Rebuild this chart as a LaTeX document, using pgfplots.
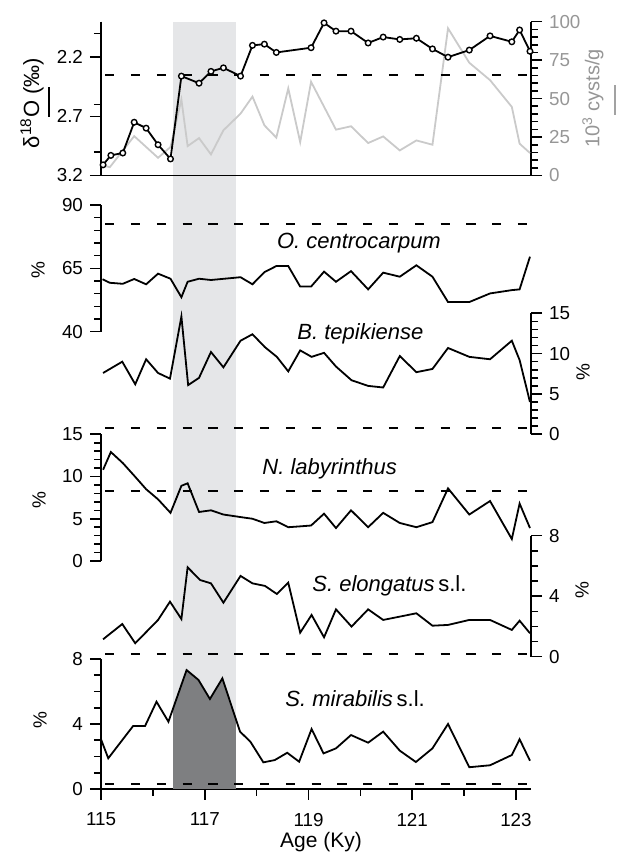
\documentclass[border=0pt]{standalone}
\usepackage{fontspec}
\setmainfont{Liberation Sans}
\usepackage{pgfplots}
\usepackage{pgfplotstable}
\pgfplotsset{compat=1.18}
\definecolor{band}{RGB}{229,230,232}
\definecolor{darkfill}{RGB}{126,127,129}
\definecolor{cystgray}{RGB}{202,202,202}
\definecolor{labgray}{RGB}{150,150,150}

\pgfplotsset{
  panel/.style={
    scale only axis, width=215pt, xmin=115, xmax=123.29,
    clip=false, anchor=south west,
    tick align=outside,
    major tick length=5.5pt, minor tick length=3.5pt,
    every tick/.style={black, line width=0.8pt},
    axis line style={line width=0.9pt,-},
    tick label style={font=\fontsize{9.4}{11}\selectfont},
    /pgf/number format/assume math mode=true,
  },
  dat/.style={black, line width=0.9pt},
  dline/.style={black, line width=0.9pt, dash pattern=on 4.6pt off 8.3pt},
}

\pgfplotstableread{
age val
115.00 3.06
115.14 1.89
115.62 3.88
115.85 3.88
116.07 5.37
116.30 4.14
116.65 7.32
116.88 6.71
117.10 5.54
117.34 6.81
117.68 3.53
117.88 2.91
118.13 1.64
118.35 1.78
118.59 2.23
118.82 1.68
119.06 3.69
119.29 2.19
119.53 2.50
119.82 3.32
120.15 2.85
120.44 3.53
120.76 2.36
121.07 1.66
121.39 2.50
121.69 4.00
122.10 1.34
122.50 1.46
122.92 2.09
123.07 3.06
123.27 1.74
}\mirdata

\begin{document}
\begin{tikzpicture}
\path[use as bounding box] (0,0) rectangle (309pt,427.5pt);

% grey band
\begin{axis}[scale only axis, width=215pt, height=383.65pt, at={(50.5pt,33pt)}, anchor=south west,
  xmin=115, xmax=123.29, ymin=0, ymax=1, hide axis]
\addplot[fill=band, draw=none] coordinates {(116.39,0) (117.6,0) (117.6,1) (116.39,1)} -- cycle;
\end{axis}

% Panel 1 right: cysts
\begin{axis}[panel, height=76.9pt, at={(50.5pt,339.75pt)},
  axis y line*=right, axis x line=none,
  ymin=0, ymax=100, ytick={0,25,50,75,100}, minor y tick num=4,
  yticklabel style={text=labgray}]
\addplot[cystgray, line width=0.9pt] table {
115.04 6.5
115.17 5.4
115.64 25.6
116.10 11.5
116.34 18.5
116.55 49.4
116.67 19.1
116.89 24.3
117.12 13.7
117.36 29.4
117.69 40.2
117.92 51.3
118.15 32.6
118.38 24.6
118.61 56.6
118.84 21.7
119.05 60.9
119.53 29.8
119.82 32.0
120.15 21.1
120.44 25.4
120.76 16.3
121.08 22.8
121.39 20.0
121.69 95.7
122.10 73.3
122.50 62.0
122.92 44.6
123.07 20.7
123.27 14.6
};
\end{axis}

% Panel 1 left: d18O
\begin{axis}[panel, height=76.9pt, at={(50.5pt,339.75pt)},
  axis y line*=left, axis x line*=bottom, y dir=reverse,
  ymin=1.9, ymax=3.2, ytick={2.2,2.7,3.2}, yticklabels={2.2,2.7,3.2},
  minor ytick={2.0,2.6,3.0},
  xtick=\empty, minor xtick={115,116,...,123}]
\addplot[dline] coordinates {(115.08,2.35) (123.29,2.35)};
\addplot[dat, mark=*, mark size=1.4pt, mark options={fill=white, draw=black, line width=0.7pt}] table {
115.04 3.11
115.19 3.03
115.42 3.01
115.64 2.75
115.87 2.80
116.10 2.94
116.34 3.06
116.55 2.36
116.89 2.42
117.12 2.32
117.36 2.29
117.69 2.36
117.92 2.10
118.15 2.09
118.38 2.16
119.05 2.12
119.30 1.91
119.53 1.98
119.82 1.98
120.15 2.08
120.44 2.03
120.76 2.05
121.08 2.04
121.39 2.13
121.69 2.20
122.10 2.14
122.50 2.02
122.92 2.07
123.07 1.97
123.27 2.15
};
\end{axis}

% Panel 2: O. centrocarpum
\begin{axis}[panel, height=63.35pt, at={(50.5pt,261.65pt)},
  axis y line*=left, axis x line=none,
  ymin=40, ymax=90, ytick={40,65,90}, minor y tick num=4]
\addplot[dline] coordinates {(115.08,82.5) (123.29,82.5)};
\addplot[dat] table {
115.03 60.7
115.17 59.3
115.42 58.9
115.64 60.8
115.87 58.7
116.10 62.9
116.34 60.9
116.55 53.6
116.67 59.7
116.89 60.9
117.12 60.4
117.69 61.5
117.92 58.7
118.15 63.5
118.38 65.9
118.61 65.9
118.84 57.8
119.05 57.8
119.30 63.7
119.53 59.7
119.82 63.9
120.15 56.7
120.44 63.3
120.76 61.7
121.08 66.2
121.39 61.7
121.69 51.7
122.10 51.7
122.50 55.1
122.92 56.4
123.07 56.7
123.27 69.6
};
\end{axis}

% Panel 3: B. tepikiense
\begin{axis}[panel, height=60.5pt, at={(50.5pt,210.35pt)},
  axis y line*=right, axis x line=none,
  ymin=0, ymax=15, ytick={0,5,10,15}, minor y tick num=4]
\addplot[dline] coordinates {(115.08,0.82) (123.29,0.82)};
\addplot[dat] table {
115.04 7.6
115.41 9.0
115.66 6.2
115.87 9.3
116.10 7.6
116.33 6.9
116.55 14.6
116.68 6.1
116.89 7.0
117.12 10.2
117.36 8.3
117.69 11.6
117.92 12.4
118.16 10.8
118.39 9.6
118.61 7.8
118.84 10.4
119.06 9.6
119.30 10.1
119.53 8.4
119.83 6.7
120.15 6.0
120.44 5.8
120.76 9.7
121.08 7.7
121.39 8.1
121.69 10.7
122.10 9.6
122.50 9.3
122.92 11.6
123.07 9.2
123.27 4.0
};
\end{axis}

% Panel 4: N. labyrinthus
\begin{axis}[panel, height=63.35pt, at={(50.5pt,147pt)},
  axis y line*=left, axis x line=none,
  ymin=0, ymax=15, ytick={0,5,10,15}, minor y tick num=4]
\addplot[dline] coordinates {(115.08,8.33) (123.29,8.33)};
\addplot[dat] table {
115.04 10.8
115.19 12.9
115.42 11.6
115.64 10.1
115.87 8.5
116.10 7.3
116.34 5.7
116.55 8.9
116.67 9.2
116.89 5.8
117.12 6.0
117.36 5.5
117.69 5.2
117.92 5.0
118.15 4.5
118.38 4.7
118.61 4.0
118.84 4.1
119.05 4.2
119.30 5.6
119.53 3.9
119.82 6.0
120.15 4.0
120.44 5.7
120.76 4.5
121.08 4.0
121.39 4.6
121.69 8.6
122.10 5.5
122.50 7.1
122.92 2.6
123.07 6.8
123.27 3.9
};
\end{axis}

% Panel 5: S. elongatus
\begin{axis}[panel, height=60.5pt, at={(50.5pt,99.15pt)},
  axis y line*=right, axis x line=none,
  ymin=0, ymax=8, ytick={0,4,8}, minor y tick num=3]
\addplot[dline] coordinates {(115.08,0.18) (123.29,0.18)};
\addplot[dat] table {
115.04 1.15
115.41 2.16
115.66 0.89
116.10 2.43
116.33 3.64
116.55 2.49
116.67 5.91
116.91 5.07
117.12 4.85
117.36 3.57
117.69 5.34
117.92 4.85
118.16 4.68
118.39 4.15
118.61 4.89
118.84 1.59
119.06 2.76
119.30 1.28
119.53 3.13
119.83 1.99
120.15 3.13
120.44 2.43
120.76 2.65
121.08 2.87
121.39 2.05
121.69 2.10
122.10 2.43
122.50 2.43
122.92 1.77
123.07 2.38
123.27 1.55
};
\end{axis}

% Panel 6: S. mirabilis
\begin{axis}[panel, height=65pt, at={(50.5pt,33pt)},
  axis y line*=left, axis x line*=bottom,
  ymin=0, ymax=8, ytick={0,4,8}, minor y tick num=3,
  xtick={115,117,119,121,123}, xticklabels={115,117,119,121,123},
  minor xtick={116,118,120,122},
  xticklabel style={yshift=-3pt}]
\begin{scope}
\clip (axis cs:116.39,0) rectangle (axis cs:117.6,8);
\addplot[fill=darkfill, draw=none] table[x=age, y=val] {\mirdata} \closedcycle;
\end{scope}
\addplot[dat] table[x=age, y=val] {\mirdata};
\addplot[dline] coordinates {(115.08,0.31) (123.29,0.31)};
\end{axis}

% labels
\node[rotate=90, font=\fontsize{11}{13}\selectfont] at (16pt,376pt) {δ\textsuperscript{18}O (‰)};
\draw[black, line width=1pt] (24.5pt,369pt) -- (24.5pt,384pt);
\node[rotate=90, font=\fontsize{10}{12}\selectfont, text=labgray] at (296.5pt,378.25pt) {10\textsuperscript{3} cysts/g};
\draw[cystgray!80!black, line width=1pt] (307.5pt,370pt) -- (307.5pt,385pt);

\node[rotate=90, font=\fontsize{9.5}{11}\selectfont] at (19pt,292.5pt) {\%};
\node[rotate=90, font=\fontsize{9.5}{11}\selectfont] at (19.5pt,177.5pt) {\%};
\node[rotate=90, font=\fontsize{9.5}{11}\selectfont] at (20pt,67.5pt) {\%};
\node[rotate=90, font=\fontsize{9.5}{11}\selectfont] at (291.5pt,241.5pt) {\%};
\node[rotate=90, font=\fontsize{9.5}{11}\selectfont] at (291pt,132.5pt) {\%};

\node[anchor=base west, inner sep=0pt, font=\fontsize{11}{13}\selectfont\itshape] at (138.3pt,303.35pt) {O. centrocarpum};
\node[anchor=base west, inner sep=0pt, font=\fontsize{11}{13}\selectfont\itshape] at (148.5pt,257.5pt) {B. tepikiense};
\node[anchor=base west, inner sep=0pt, font=\fontsize{11}{13}\selectfont\itshape] at (131pt,190pt) {N. labyrinthus};
\node[anchor=base west, inner sep=0pt, font=\fontsize{11}{13}\selectfont] at (156pt,131.7pt) {\textit{S. elongatus}\,s.l.};
\node[anchor=base west, inner sep=0pt, font=\fontsize{11}{13}\selectfont] at (142.5pt,74.2pt) {\textit{S. mirabilis}\,s.l.};

\node[anchor=base, inner sep=0pt, font=\fontsize{10.5}{12}\selectfont] at (160.5pt,3.5pt) {Age (Ky)};
\end{tikzpicture}
\end{document}
